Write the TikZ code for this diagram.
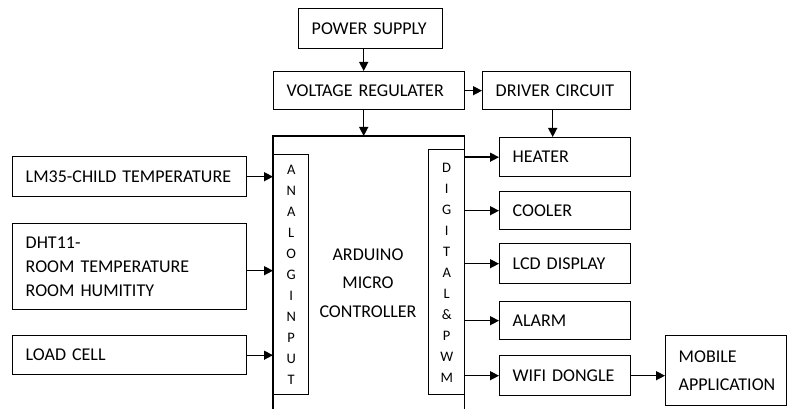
\documentclass[tikz,border=0pt]{standalone}
\usepackage{fontspec}
\setmainfont{Carlito}
\usetikzlibrary{arrows.meta}
\begin{document}
\begin{tikzpicture}[x=1pt,y=-1pt,
 box/.style={draw, line width=1.4pt, rectangle, inner xsep=13pt, inner ysep=0pt, align=left,
   font=\fontsize{18}{24}\selectfont, anchor=north west},
 vbar/.style={draw, line width=1.4pt, rectangle, inner sep=0pt, anchor=north west},
 vtext/.style={align=center, font=\fontsize{14.5}{21}\selectfont, inner sep=0pt},
 arr/.style={line width=1.4pt, -{Triangle[length=9pt,width=9pt]}},
 bigline/.style={line width=1.4pt},
]
\useasboundingbox (0,0) rectangle (787,409);
% top blocks
\node[box, minimum width=144pt, minimum height=40pt, text width=118pt] (ps) at (298,8) {POWER SUPPLY};
\node[box, minimum width=191pt, minimum height=38pt, text width=165pt] (vr) at (273,71) {VOLTAGE REGULATER};
\node[box, minimum width=148pt, minimum height=38pt, text width=122pt] (drv) at (482,71) {DRIVER CIRCUIT};
% arduino body (open at bottom)
\node[inner sep=0pt, minimum width=191pt, minimum height=280pt, anchor=north west] (ard) at (273,136) {};
\draw[bigline] (ard.south west) -- (ard.north west) -- (ard.north east) -- (ard.south east);
\node[align=center, font=\fontsize{18}{28.5}\selectfont, inner sep=0pt] (ardtxt) at (368,283) {ARDUINO\\MICRO\\CONTROLLER};
% port bars
\node[vbar, minimum width=35pt, minimum height=240pt] (ana) at (273,154) {};
\node[vtext] (anatxt) at (ana.center) {A\\N\\A\\L\\O\\G\\I\\N\\P\\U\\T};
\node[vbar, minimum width=36pt, minimum height=245pt] (dig) at (428,149) {};
\node[vtext] (digtxt) at ([yshift=-1pt]dig.center) {D\\I\\G\\I\\T\\A\\L\\\&\\P\\W\\M};
% inputs
\node[box, minimum width=234pt, minimum height=40pt, text width=208pt] (lm) at (12,156) {LM35-CHILD TEMPERATURE};
\node[box, minimum width=234pt, minimum height=86pt, text width=208pt] (dht) at (12,223) {DHT11-\\ROOM TEMPERATURE\\ROOM HUMITITY};
\node[box, minimum width=234pt, minimum height=39pt, text width=208pt] (lc) at (12,335) {LOAD CELL};
% outputs
\node[box, minimum width=131pt, minimum height=39pt, text width=105pt] (heat) at (499,137) {HEATER};
\node[box, minimum width=131pt, minimum height=38pt, text width=105pt] (cool) at (499,191) {COOLER};
\node[box, minimum width=131pt, minimum height=40pt, text width=105pt] (lcd) at (499,243) {LCD DISPLAY};
\node[box, minimum width=131pt, minimum height=38pt, text width=105pt] (alarm) at (499,301) {ALARM};
\node[box, minimum width=131pt, minimum height=40pt, text width=105pt] (wifi) at (499,355) {WIFI DONGLE};
\node[box, minimum width=121pt, minimum height=70pt, text width=95pt, font=\fontsize{18}{28}\selectfont] (mob) at (665,335) {MOBILE\\APPLICATION};
% connectors
\draw[arr] ([xshift=-7pt]ps.south) -- ([xshift=-7pt]ps.south |- vr.north);
\draw[arr] ([xshift=-5.5pt]vr.south) -- ([xshift=-5.5pt]vr.south |- ard.north);
\draw[arr] (vr.east) -- (drv.west);
\draw[arr] ([xshift=-4pt]drv.south) -- ([xshift=-4pt]drv.south |- heat.north);
\draw[arr] (lm.east) -- (lm.east -| ana.west);
\draw[arr] ([yshift=-4pt]dht.east) -- ([yshift=-4pt]dht.east -| ana.west);
\draw[arr] (lc.east) -- (lc.east -| ana.west);
\draw[arr] (dig.east |- heat.west) -- (heat.west);
\draw[arr] (dig.east |- cool.west) -- (cool.west);
\draw[arr] (dig.east |- lcd.west) -- (lcd.west);
\draw[arr] (dig.east |- alarm.west) -- (alarm.west);
\draw[arr] (dig.east |- wifi.west) -- (wifi.west);
\draw[arr] (wifi.east) -- (wifi.east -| mob.west);
\end{tikzpicture}
\end{document}
